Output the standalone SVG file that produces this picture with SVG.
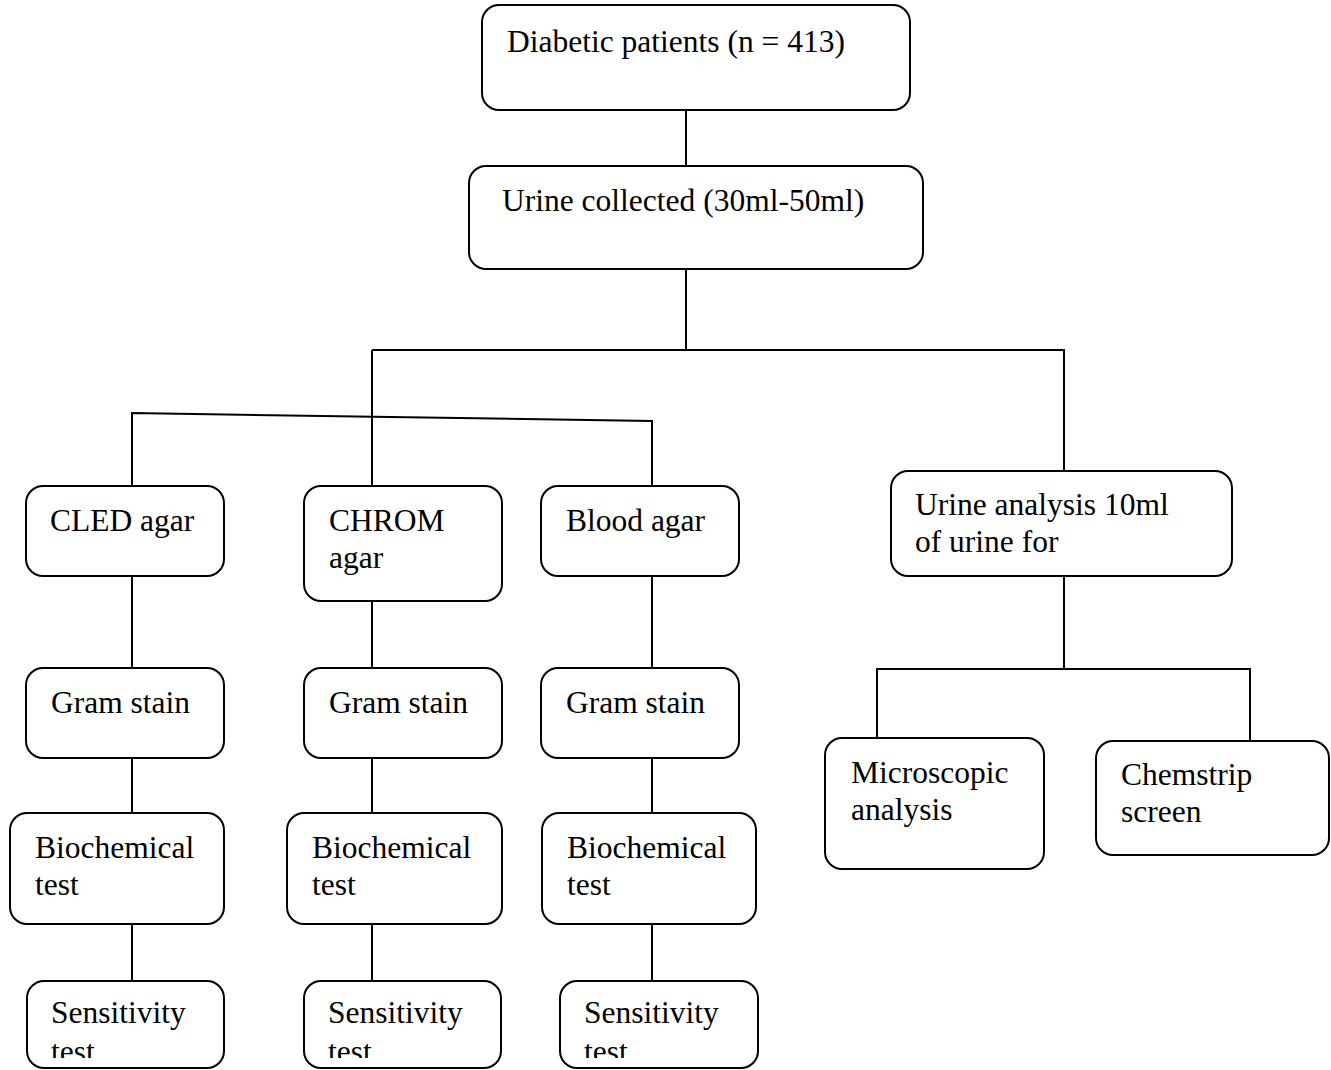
<svg xmlns="http://www.w3.org/2000/svg" width="1331" height="1070" viewBox="0 0 1331 1070">
<style>
.box{fill:#fff;stroke:#000;stroke-width:2}
.t{font-family:"Liberation Serif","Times New Roman",serif;font-size:31.5px;fill:#000}
.c{fill:none;stroke:#000;stroke-width:2}
</style>
<defs>
<clipPath id="clipBottom"><rect x="0" y="0" width="1331" height="1058"/></clipPath>
</defs>
<rect width="1331" height="1070" fill="#fff"/>
<g id="connectors" class="c">
<path d="M686 110V166M686 269V350M372 350H1064V471M372 350V486"/>
<path d="M132 486V413L652 421V486"/>
<path d="M1064 576V669M877 739V669H1250V741"/>
<path d="M132 576V668M372 601V668M652 576V668"/>
<path d="M132 758V813M372 758V813M652 758V813"/>
<path d="M132 924V981M372 924V981M652 924V981"/>
</g>
<g id="n-diabetic"><rect class="box" x="482" y="5" width="428" height="105" rx="17"/><text class="t" x="507" y="52">Diabetic patients (n = 413)</text></g>
<g id="n-urine"><rect class="box" x="469" y="166" width="454" height="103" rx="17"/><text class="t" x="502" y="211">Urine collected (30ml-50ml)</text></g>
<g id="n-cled"><rect class="box" x="26" y="486" width="198" height="90" rx="17"/><text class="t" x="50" y="531">CLED agar</text></g>
<g id="n-chrom"><rect class="box" x="304" y="486" width="198" height="115" rx="17"/><text class="t" x="329" y="531">CHROM</text><text class="t" x="329" y="568">agar</text></g>
<g id="n-blood"><rect class="box" x="541" y="486" width="198" height="90" rx="17"/><text class="t" x="566" y="531">Blood agar</text></g>
<g id="n-ua"><rect class="box" x="891" y="471" width="341" height="105" rx="17"/><text class="t" x="915" y="515">Urine analysis 10ml</text><text class="t" x="915" y="552">of urine for</text></g>
<g id="n-gram1"><rect class="box" x="26" y="668" width="198" height="90" rx="17"/><text class="t" x="51" y="713">Gram stain</text></g>
<g id="n-gram2"><rect class="box" x="304" y="668" width="198" height="90" rx="17"/><text class="t" x="329" y="713">Gram stain</text></g>
<g id="n-gram3"><rect class="box" x="541" y="668" width="198" height="90" rx="17"/><text class="t" x="566" y="713">Gram stain</text></g>
<g id="n-micro"><rect class="box" x="825" y="738" width="219" height="131" rx="17"/><text class="t" x="851" y="783">Microscopic</text><text class="t" x="851" y="820">analysis</text></g>
<g id="n-chem"><rect class="box" x="1096" y="741" width="233" height="114" rx="17"/><text class="t" x="1121" y="785">Chemstrip</text><text class="t" x="1121" y="822">screen</text></g>
<g id="n-bio1"><rect class="box" x="10" y="813" width="214" height="111" rx="17"/><text class="t" x="35" y="858">Biochemical</text><text class="t" x="35" y="895">test</text></g>
<g id="n-bio2"><rect class="box" x="287" y="813" width="215" height="111" rx="17"/><text class="t" x="312" y="858">Biochemical</text><text class="t" x="312" y="895">test</text></g>
<g id="n-bio3"><rect class="box" x="542" y="813" width="214" height="111" rx="17"/><text class="t" x="567" y="858">Biochemical</text><text class="t" x="567" y="895">test</text></g>
<g id="n-sens1"><rect class="box" x="27" y="981" width="197" height="87" rx="17"/><text class="t" x="51" y="1023">Sensitivity</text><text class="t" x="51" y="1062" clip-path="url(#clipBottom)">test</text></g>
<g id="n-sens2"><rect class="box" x="304" y="981" width="197" height="87" rx="17"/><text class="t" x="328" y="1023">Sensitivity</text><text class="t" x="328" y="1062" clip-path="url(#clipBottom)">test</text></g>
<g id="n-sens3"><rect class="box" x="560" y="981" width="198" height="87" rx="17"/><text class="t" x="584" y="1023">Sensitivity</text><text class="t" x="584" y="1062" clip-path="url(#clipBottom)">test</text></g>
</svg>
